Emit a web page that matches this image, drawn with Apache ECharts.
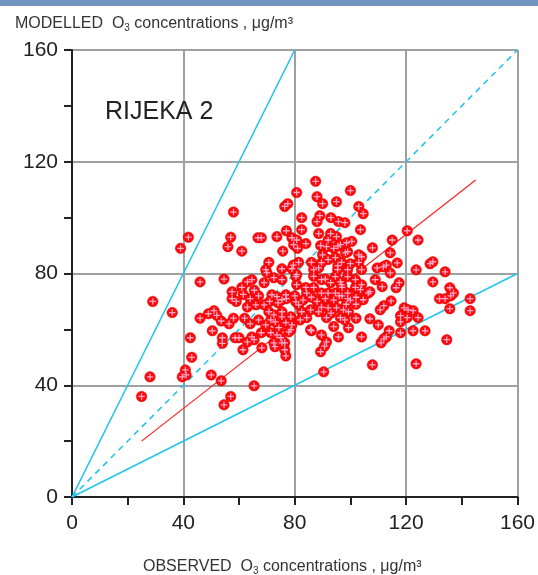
<!DOCTYPE html>
<html>
<head>
<meta charset="utf-8">
<script src="https://cdn.jsdelivr.net/npm/echarts@6/dist/echarts.min.js"></script>
<style>html,body{margin:0;padding:0;background:#fff}#c{width:538px;height:575px}</style>
</head>
<body>
<div id="c"></div>
<script>
// Observed (x) vs modelled (y) O3, µg/m3
var points = [
[25,36],[28,43],[29,70],[36,66],[39,89],[41.8,93],[42.5,57],[43,50],[40.7,45.5],[39.6,43],[41,43.7],[50,43.7],[53.6,41.6],[57,36],[54.6,33],[46,64],[49,65.6],[51,66.7],[52,65],[53.6,63],[56.4,62],[58,64],[62,64],[50.4,59.5],[54,57],[54,55],[58.6,57],[60,57],[61.4,52.7],[63,55.5],[57.5,71],[59,70],
[58,102],[57,93],[56,89.6],[61,88],[46,77],[54.6,78],[57.5,73.5],[63,77],
[87.5,113],[80.7,109],[100,109.7],[88,107.5],[90,105],[95,105.7],[77.5,105],[76.4,104],[103,104],[104.6,101.4],[82.5,100],[89,100.7],[88,98.6],[93,100],[95.7,98.6],[98,98.2],[103.6,95.7],[77,95.3],[82.5,95.7],[88.6,94.3],[92.9,94.3],[95,93.2],[66.8,92.8],[68,92.8],[73.6,93.2],[79,92.8],[80.7,92],[84,90.7],[79.6,90.3],[92,92],[91.4,89.6],[94,89],[98.6,91],[99,87.8],[103,86.7],[104,86],[75.7,88],[81,89],[90,86.7],[94.6,85.7],[70.7,84],[81.4,84],[86,84],[88.6,82],[92,85],[96.8,84],[100,83.5],[103,84],[69.6,81.4],[75.4,81.7],[79,81.7],[95.4,81.4],[99,81.4],[104,81.4],[72.5,78.5],[75.4,77.8],[80.4,78.9],[86.8,79],[89.6,77.8],[94.6,78.9],[99,78.9],[101.8,77.8],[64.6,77.8],[69,76.7],[80.7,76],[84,75],[92.9,76.7],[96.8,76],[101.8,75],[104,76],
[120.4,95.3],[124.3,92],[115,92],[107.9,89.2],[114.3,87.4],[116.8,83.8],[109.6,82],[111.8,82.4],[112.9,83],[114.3,80.2],[123.6,81.3],[128.6,83.5],[129.6,84.2],[134,80.6],[108.9,77.8],[111.4,75.3],[117.5,76.7],[116.4,74.9],[129.6,77],[135.7,74.9],[137,73],[107,73.5],
[132,71],[134,71],[136,72],[143,71],[135.7,67.4],[143,66.7],[114.6,70.2],[112,68.5],[110.7,67],[107,63.8],[110,61.6],[113.9,59.5],[112.9,57.3],[112,56.6],[111,55.2],[119.3,67.7],[118,64.9],[118,62.7],[120.7,67],[122.5,66.7],[120.4,64.2],[124.3,64.2],[118,58.8],[122.5,59.5],[126.8,59.5],[134.6,56.3],[123.6,47.7],[107.9,47.3],
[90.4,44.8],[65.4,39.8],[86,59.5],[89.6,58],[91.4,55.5],[90.7,54],[89.3,52],[95.7,57.3],[99.3,60.6],[94,61],[102,64],[76.8,50.5],[76.4,52.7],[76.4,55.2],[72.9,53.8],[68.2,53.4],[64.6,57.3],[65.4,56.3],[68,58.8],[71.4,58.8],[73.6,58],[75,57],[78.6,59.9],[67,63.4],[71.4,63.4],[73,62.7],[74.3,60.6],[70.7,66.3],[69,68.8],[66,68.8],[75.4,66.3],[78.6,64.5],[82,63.4],[84.3,64.2],[88.6,66.3],[92,67.7],[95,67.7],[99.3,66.3],[98,63.4],[96.4,64.2],[91.4,64.2],
[89.3,90],[95.5,89.8],[79.5,83],[89.6,83.9],[95.5,82.8],[70,80.3],[80.7,79.6],[86.8,81.4],[91,78],[96.4,77],[84.3,73],[86.8,75],[89.6,73],[92,73],[94.6,73],[71.8,72.4],[73.6,71.7],[75.4,70.6],[76.8,72.4],[80.4,69.9],[81.4,68.8],[82.5,66.3],[85.7,67],[89.6,68],[93,65.8],[69.6,61.6],[72.5,65.2],[75.4,64.5],[76.8,62.4],[79,61.6],[77.9,59.1],[85.7,59.9],[72.5,55.2],[75.4,55.2],
[96.4,90.3],[100.5,91.5],[98.2,87.4],[103.6,74.2],[106.4,73],[104.6,70.6],[97.5,67],[104,57.3],
[97,75],[99,73],[100,70.5],[97,72],[102,71.5],[98.5,69],
[64,71],[67,72],[71,70],[74,69.5],[77,71],[80,72],[83,70.5],[86,71.5],[88,70],[91,71],[94,70.5],[96,72],[99,71],[102,69],
[61.5,72.5],[63,68],[64,62],[61,75],[65.5,74]
];
var lineTwoX = [[0,0],[80,160]];
var lineOneX = [[0,0],[160,160]];
var lineHalfX = [[0,0],[160,80]];
var regLine = [[25,20],[145,113.5]];
var axisTicks = [0,40,80,120,160];

var cyan = '#22c4f0';
var chart = echarts.init(document.getElementById('c'));
var plus = 'path://M2,0H3V2H5V3H3V5H2V3H0V2H2Z';
var ff = 'Liberation Sans, Arial, sans-serif';
function axis(){
  return {
    type:'value', min:axisTicks[0], max:axisTicks[axisTicks.length-1], interval:axisTicks[1]-axisTicks[0],
    axisLine:{show:true,onZero:false,lineStyle:{color:'#222',width:2}},
    axisTick:{show:true,inside:false,length:8,lineStyle:{color:'#222',width:2}},
    minorTick:{show:true,splitNumber:2,length:8,lineStyle:{color:'#222',width:2}},
    splitLine:{show:true,lineStyle:{color:'#a0a0a0',width:2}},
    axisLabel:{color:'#222',fontSize:21,fontFamily:ff}
  };
}
var xa = axis(); xa.axisLabel.margin = 16;
var ya = axis(); ya.axisLabel.margin = 14;
var titleRich = {
  a:{fontSize:16,fontWeight:'normal',color:'#333',fontFamily:ff},
  s:{fontSize:10,fontWeight:'normal',color:'#333',fontFamily:ff,padding:[8,0,0,0]}
};
chart.setOption({
  animation:false,
  grid:{left:72,right:18,top:50,bottom:78,containLabel:false},
  title:[
    {text:'{a|MODELLED  O}{s|3}{a| concentrations , μg/m³}',left:10,top:10,textStyle:{fontWeight:'normal',rich:titleRich}},
    {text:'{a|OBSERVED  O}{s|3}{a| concentrations , μg/m³}',left:138,top:553,textStyle:{fontWeight:'normal',rich:titleRich}},
    {text:'RIJEKA 2',left:100,top:95,textStyle:{fontSize:25,fontWeight:'normal',color:'#222',fontFamily:ff}}
  ],
  graphic:[{type:'rect',shape:{x:0,y:0,width:538,height:6},style:{fill:'#7393bf'}}],
  xAxis:xa,
  yAxis:ya,
  series:[
    {type:'line',data:lineTwoX,symbol:'none',lineStyle:{color:cyan,width:1.6},z:3},
    {type:'line',data:lineOneX,symbol:'none',lineStyle:{color:cyan,width:1.6,type:[6,5]},z:3},
    {type:'line',data:lineHalfX,symbol:'none',lineStyle:{color:cyan,width:1.6},z:3},
    {type:'line',data:regLine,symbol:'none',lineStyle:{color:'#ff2020',width:1.2},z:4},
    {type:'scatter',data:points,symbol:'circle',symbolSize:10.5,itemStyle:{color:'#ff0a0a',borderColor:'#e00000',borderWidth:0.5,opacity:1},z:5},
    {type:'scatter',data:points,symbol:plus,symbolSize:6.5,itemStyle:{color:'#ffa6cc',opacity:1},z:6,silent:true}
  ]
});
</script>
</body>
</html>
